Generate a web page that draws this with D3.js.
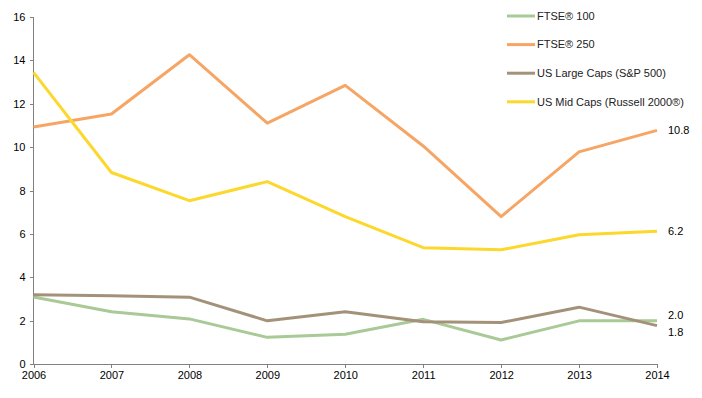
<!DOCTYPE html>
<html lang="en">
<head>
<meta charset="UTF-8">
<title>FTSE vs US indices</title>
<script src="https://d3js.org/d3.v7.min.js"></script>
<style>
  body { margin: 0; background: #fff; }
  svg text { font-family: "Liberation Sans", Arial, sans-serif; font-size: 11px; fill: #000; }
  .axis path, .axis line { stroke: #808080; shape-rendering: crispEdges; }
  .legend text { fill: #222; }
</style>
</head>
<body>
<svg id="chart" width="702" height="398"></svg>
<script>
const years = [2006, 2007, 2008, 2009, 2010, 2011, 2012, 2013, 2014];
const ftse100 = [3.1, 2.42, 2.09, 1.24, 1.38, 2.07, 1.12, 2.0, 2.0];
const ftse250 = [10.92, 11.52, 14.25, 11.1, 12.84, 10.05, 6.8, 9.78, 10.77];
const usLarge = [3.2, 3.15, 3.09, 2.0, 2.42, 1.96, 1.92, 2.63, 1.78];
const usMid = [13.44, 8.83, 7.53, 8.41, 6.8, 5.37, 5.27, 5.96, 6.12];
const yTicks = [0, 2, 4, 6, 8, 10, 12, 14, 16];

const series = [
  { name: "FTSE\u00AE 100", values: ftse100, color: "#a9c996", end: "2.0", endDy: -6 },
  { name: "FTSE\u00AE 250", values: ftse250, color: "#f6a564", end: "10.8", endDy: 0 },
  { name: "US Large Caps (S&P 500)", values: usLarge, color: "#a39279", end: "1.8", endDy: 7 },
  { name: "US Mid Caps (Russell 2000\u00AE)", values: usMid, color: "#fcd82d", end: "6.2", endDy: 0 }
];

const svg = d3.select("#chart");
const margin = { left: 33.5, right: 45, top: 16.7, bottom: 33.7 };
const x = d3.scaleLinear().domain([2006, 2014]).range([margin.left, 702 - margin.right]);
const y = d3.scaleLinear().domain([0, 16]).range([398 - margin.bottom, margin.top]);

// axes
svg.append("g").attr("class", "axis")
  .attr("transform", `translate(${margin.left},0)`)
  .call(d3.axisLeft(y).tickValues(yTicks).tickSize(4).tickPadding(4).tickFormat(d3.format("d")))
  .call(g => g.select(".domain").attr("d", `M0,${y(16)}V${y(0)}`))
  .selectAll("text").attr("font-size", 11).attr("font-family", null);

svg.append("g").attr("class", "axis")
  .attr("transform", `translate(0,${y(0)})`)
  .call(d3.axisBottom(x).tickValues(years).tickSize(4).tickPadding(3).tickFormat(d3.format("d")))
  .call(g => g.select(".domain").attr("d", `M${x(2006)},0H${x(2014)}`))
  .selectAll("text").attr("font-size", 11).attr("font-family", null);

const line = d3.line().x((d, i) => x(years[i])).y(d => y(d));

svg.selectAll(".series").data(series).enter().append("path")
  .attr("class", "series")
  .attr("d", d => line(d.values))
  .attr("fill", "none")
  .attr("stroke", d => d.color)
  .attr("stroke-width", 3)
  .attr("stroke-linejoin", "round");

// end labels
svg.selectAll(".endlabel").data(series).enter().append("text")
  .attr("class", "endlabel")
  .attr("x", x(2014) + 11)
  .attr("y", d => y(d.values[d.values.length - 1]) + d.endDy)
  .attr("dy", "0.35em")
  .text(d => d.end);

// legend
const legend = svg.append("g").attr("class", "legend");
series.forEach((s, i) => {
  const ly = 16 + i * 28.6;
  legend.append("line").attr("x1", 507).attr("x2", 535).attr("y1", ly).attr("y2", ly)
    .attr("stroke", s.color).attr("stroke-width", 3);
  legend.append("text").attr("x", 537).attr("y", ly).attr("dy", "0.35em").text(s.name);
});
</script>
</body>
</html>
